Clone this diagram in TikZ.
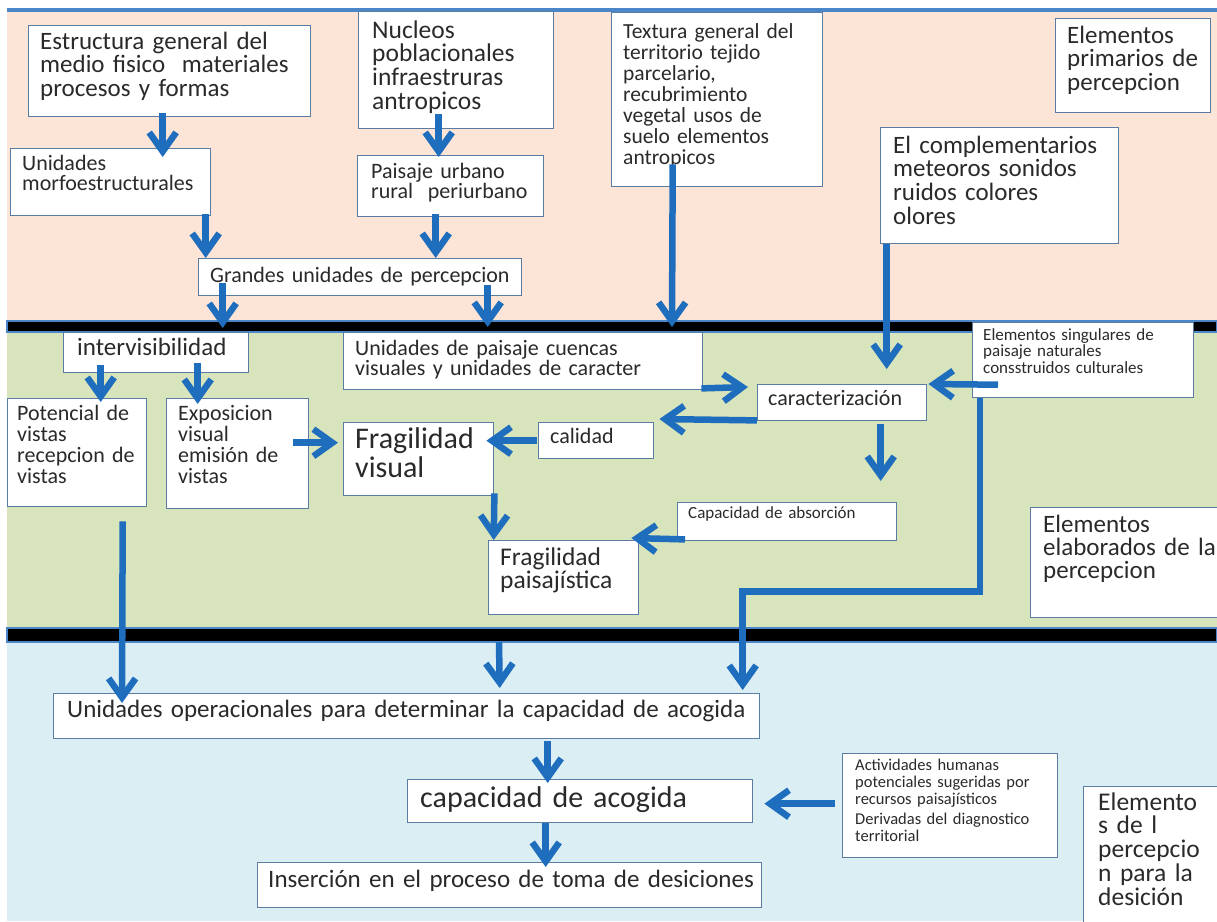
\documentclass[tikz,border=0pt]{standalone}
\usepackage{fontspec}
\setmainfont[WordSpace=0.75]{Carlito}
\usetikzlibrary{arrows.meta}
\definecolor{peach}{HTML}{FCE4D6}
\definecolor{olive}{HTML}{D8E4BC}
\definecolor{skyb}{HTML}{DBEEF4}
\definecolor{arrc}{HTML}{1F6EBE}
\definecolor{framec}{HTML}{5A7CA3}
\definecolor{textc}{HTML}{2A2A2A}
\definecolor{edgeb}{HTML}{4A86C8}
\newcommand\myfs[2]{\fontsize{#1}{#2}\selectfont}
\tikzset{
  frame/.style={draw=framec, fill=white, line width=1.4pt, inner sep=0pt, anchor=north west},
  txt/.style={anchor=base west, inner sep=0pt, align=left, text=textc, text width=320pt},
  arr/.style={draw=arrc, line width=6.5pt, -{Straight Barb[length=19pt,width=27pt]}},
  band/.style={fill=black, draw=edgeb, line width=1.2pt}
}
\begin{document}
\begin{tikzpicture}[x=1pt,y=-1pt]
\useasboundingbox (0,0) rectangle (1217,921);
\clip (0,0) rectangle (1217,921);
% backgrounds
\fill[white] (0,0) rectangle (1217,921);
\fill[peach] (7,11) rectangle (1217,321);
\fill[olive] (7,332) rectangle (1217,628);
\fill[skyb] (7,642) rectangle (1217,921);
\fill[edgeb] (7,8) rectangle (1217,11.5);
\filldraw[band] (7,321) rectangle (1217,332);
\filldraw[band] (7,628) rectangle (1217,642);

% frames
\node[frame, minimum width=282pt, minimum height=91pt] (b1) at (28,25) {};
\node[frame, minimum width=200pt, minimum height=67pt] (b2) at (10,148) {};
\node[frame, minimum width=195pt, minimum height=117pt] (b3) at (358,11) {};
\node[frame, minimum width=186pt, minimum height=61pt] (b4) at (357,155) {};
\node[frame, minimum width=323pt, minimum height=37pt] (b5) at (198,258) {};
\node[frame, minimum width=211pt, minimum height=174pt] (b6) at (611,12) {};
\node[frame, minimum width=155pt, minimum height=94pt] (b7) at (1055,18) {};
\node[frame, minimum width=238pt, minimum height=116pt] (b8) at (880,127) {};
\node[frame, minimum width=185pt, minimum height=40pt] (b9) at (63,332) {};
\node[frame, minimum width=139pt, minimum height=108pt] (b10) at (7,398) {};
\node[frame, minimum width=142pt, minimum height=110pt] (b11) at (166,398) {};
\node[frame, minimum width=359pt, minimum height=57pt] (b12) at (343,332) {};
\node[frame, minimum width=150pt, minimum height=73pt] (b13) at (343,422) {};
\node[frame, minimum width=115pt, minimum height=36pt] (b14) at (538,422) {};
\node[frame, minimum width=169pt, minimum height=36pt] (b15) at (757,384) {};
\node[frame, minimum width=221pt, minimum height=75pt] (b16) at (972,322) {};
\node[frame, minimum width=219pt, minimum height=38pt] (b17) at (677,502) {};
\node[frame, minimum width=150pt, minimum height=74pt] (b18) at (488,540) {};
\node[frame, minimum width=195pt, minimum height=110pt] (b19) at (1030,507) {};
\node[frame, minimum width=706pt, minimum height=45pt] (b20) at (53,693) {};
\node[frame, minimum width=345pt, minimum height=43pt] (b21) at (407,779) {};
\node[frame, minimum width=504pt, minimum height=45pt] (b22) at (257,862) {};
\node[frame, minimum width=215pt, minimum height=104pt] (b23) at (842,753) {};
\node[frame, minimum width=150pt, minimum height=150pt] (b24) at (1083,786) {};

% texts
\node[txt, font=\myfs{25}{23.3}] (t1) at (40,49.5) {Estructura general del\\medio fisico\ \ materiales\\procesos y formas};
\node[txt, font=\myfs{22}{20}] (t2) at (22,170.5) {Unidades\\morfoestructurales};
\node[txt, font=\myfs{25.5}{23.8}] (t3) at (372,38) {Nucleos\\poblacionales\\infraestruras\\antropicos};
\node[txt, font=\myfs{22}{20}] (t4) at (371,178) {Paisaje urbano\\rural\ \ periurbano};
\node[txt, font=\myfs{22}{20}] (t5) at (210,282) {Grandes unidades de percepcion};
\node[txt, font=\myfs{21.5}{21.1}] (t6) at (623,38) {Textura general del\\territorio tejido\\parcelario,\\recubrimiento\\vegetal usos de\\suelo elementos\\antropicos};
\node[txt, font=\myfs{25}{23.5}] (t7) at (1067,43) {Elementos\\primarios de\\percepcion};
\node[txt, font=\myfs{25}{23.7}] (t8) at (893,153) {El complementarios\\meteoros sonidos\\ruidos colores\\olores};
\node[txt, font=\myfs{25}{23}] (t9) at (77,355) {intervisibilidad};
\node[txt, font=\myfs{22}{21}] (t10) at (17,420) {Potencial de\\vistas\\recepcion de\\vistas};
\node[txt, font=\myfs{22}{21}] (t11) at (178,420) {Exposicion\\visual\\emisión de\\vistas};
\node[txt, font=\myfs{22}{20}] (t12) at (355,355) {Unidades de paisaje cuencas\\visuales y unidades de caracter};
\node[txt, font=\myfs{30}{29}] (t13) at (355,448) {Fragilidad\\visual};
\node[txt, font=\myfs{22}{20}] (t14) at (550,443) {calidad};
\node[txt, font=\myfs{22}{20}] (t15) at (768,405) {caracterización};
\node[txt, font=\myfs{17}{16.7}] (t16) at (983,340) {Elementos singulares de\\paisaje naturales\\consstruidos culturales};
\node[txt, font=\myfs{17}{17}] (t17) at (688,518) {Capacidad de absorción};
\node[txt, font=\myfs{25.5}{22}] (t18) at (500,565) {Fragilidad\\paisajística};
\node[txt, font=\myfs{25}{23.3}] (t19) at (1043,532) {Elementos\\elaborados de la\\percepcion};
\node[txt, font=\myfs{25}{23}, text width=720pt] (t20) at (67,717) {Unidades operacionales para determinar la capacidad de acogida};
\node[txt, font=\myfs{30}{29}] (t21) at (420,807) {capacidad de acogida};
\node[txt, font=\myfs{25}{23}, text width=520pt] (t22) at (268,887) {Inserción en el proceso de toma de desiciones};
\node[txt, font=\myfs{16.5}{17}] (t23) at (855,770) {Actividades humanas\\potenciales sugeridas por\\recursos paisajísticos\\[3pt]Derivadas del diagnostico\\territorial};
\node[txt, font=\myfs{25.5}{23.8}] (t24) at (1098,810) {Elemento\\s de l\\percepcio\\n para la\\desición};

% free ends
\coordinate (c7) at (672,327);
\coordinate (c21) at (499,642);

% connectors
\draw[arr] ([shift={(-7,-4)}]b1.south) -- ([shift={(52,9)}]b2.north);
\draw[arr] ([shift={(95,-2)}]b2.south) -- ([shift={(-154.5,0)}]b5.north);
\draw[arr] ([shift={(-17.5,-15)}]b3.south) -- ([shift={(-12,2)}]b4.north);
\draw[arr] ([shift={(-15,-3)}]b4.south) -- ([shift={(75.5,0)}]b5.north);
\draw[arr] ([shift={(-137.5,-13)}]b5.south) -- ([shift={(66.5,-4)}]b9.north);
\draw[arr] ([shift={(127.5,-11)}]b5.south) -- ([shift={(-35.5,-5)}]b12.north);
\draw[arr] ([shift={(-44.5,-23)}]b6.south) -- (c7);
\draw[arr] ([shift={(-113,0)}]b8.south) -- ([shift={(44.5,-15)}]b15.north);
\draw[arr] ([shift={(-55.5,-8)}]b9.south) -- ([shift={(23.5,4)}]b10.north);
\draw[arr] ([shift={(41.5,-10)}]b9.south) -- ([shift={(-40,6)}]b11.north);
\draw[arr] ([shift={(-16,-11)}]b11.east) -- ([shift={(-5,-16.5)}]b13.west);
\draw[arr] ([shift={(-1,0)}]b14.west) -- ([shift={(-8,-18.5)}]b13.east);
\draw[arr] ([shift={(0,-1)}]b15.south west) -- ([shift={(5,-3)}]b14.north east);
\draw[arr] ([shift={(-2,-2)}]b12.south east) -- ([shift={(-9,3)}]b15.north west);
\draw[arr] ([shift={(26,24.5)}]b16.west) -- ([shift={(1,0)}]b15.north east);
\draw[arr] ([shift={(38.5,3)}]b15.south) -- ([shift={(93.5,-21)}]b17.north);
\draw[arr] ([shift={(0,-3)}]b13.south east) -- ([shift={(-70,0)}]b18.north);
\draw[arr] ([shift={(8,-2)}]b17.south west) -- ([shift={(-8,-2)}]b18.north east);
\draw[arr] ([shift={(8,0)}]b16.south west) -- ++(0,193) -| ([shift={(336,-3)}]b20.north);
\draw[arr] ([shift={(45.5,14)}]b10.south) -- ([shift={(69,10)}]b20.north west);
\draw[arr] (c21) -- ([shift={(93,-5)}]b20.north);
\draw[arr] ([shift={(141,2)}]b20.south) -- ([shift={(-32.5,4)}]b21.north);
\draw[arr] ([shift={(-34.5,0)}]b21.south) -- ([shift={(36,5)}]b22.north);
\draw[arr] ([shift={(-7,-2)}]b23.west) -- ([shift={(11,2.5)}]b21.east);
\end{tikzpicture}
\end{document}
